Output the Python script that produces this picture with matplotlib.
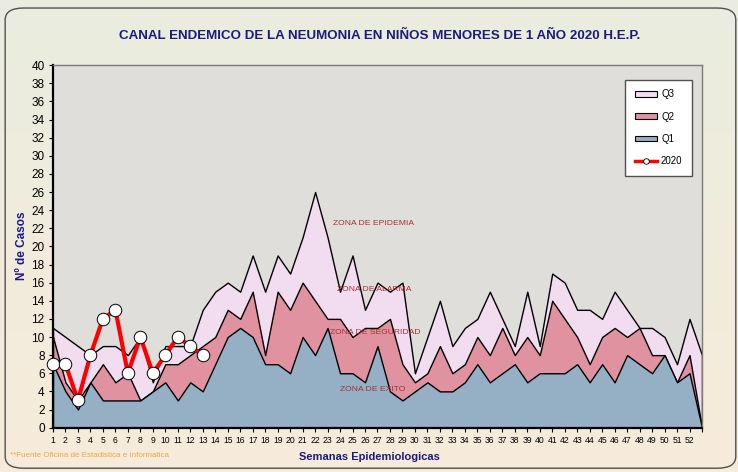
import numpy as np
import matplotlib.pyplot as plt
from matplotlib.patches import FancyBboxPatch, Patch
from matplotlib.lines import Line2D

# Weekly quartiles of historical cases (endemic channel) and 2020 cases
weeks = list(range(1, 54))
week_labels = [str(w) for w in range(1, 53)] + [""]

q1 = [7, 4, 2, 5, 3, 3, 3, 3, 4, 5, 3, 5, 4, 7, 10, 11, 10, 7, 7, 6,
      10, 8, 11, 6, 6, 5, 9, 4, 3, 4, 5, 4, 4, 5, 7, 5, 6, 7, 5, 6,
      6, 6, 7, 5, 7, 5, 8, 7, 6, 8, 5, 6, 0]
q2 = [10, 5, 3, 5, 7, 5, 6, 3, 4, 7, 7, 8, 9, 10, 13, 12, 15, 8, 15, 13,
      16, 14, 12, 12, 10, 11, 11, 12, 7, 5, 6, 9, 6, 7, 10, 8, 11, 8, 10, 8,
      14, 12, 10, 7, 10, 11, 10, 11, 8, 8, 5, 8, 0]
q3 = [11, 10, 9, 8, 9, 9, 8, 10, 5, 9, 9, 9, 13, 15, 16, 15, 19, 15, 19, 17,
      21, 26, 21, 15, 19, 13, 16, 15, 16, 6, 10, 14, 9, 11, 12, 15, 12, 9, 15, 9,
      17, 16, 13, 13, 12, 15, 13, 11, 11, 10, 7, 12, 8]

weeks_2020 = list(range(1, 14))
cases_2020 = [7, 7, 3, 8, 12, 13, 6, 10, 6, 8, 10, 9, 8]

zones = ["ZONA DE EPIDEMIA", "ZONA DE ALARMA", "ZONA DE SEGURIDAD", "ZONA DE EXITO"]

C_Q3 = "#f1ddef"
C_Q2 = "#e192a1"
C_Q1 = "#95afc5"
NAVY = "#1a1a80"
ZONE_RED = "#a5302f"

plt.rcParams["font.family"] = ["Liberation Sans", "DejaVu Sans"]


def main():
    fig = plt.figure(figsize=(7.38, 4.72), dpi=100)

    # gradient background (greenish top -> beige bottom)
    bg = fig.add_axes([0, 0, 1, 1], zorder=-10)
    top = np.array([0.914, 0.929, 0.875])
    bot = np.array([0.969, 0.922, 0.859])
    t = np.linspace(0, 1, 256)[:, None]
    grad = top + (bot - top) * t
    bg.imshow(grad[:, None, :].repeat(2, axis=1), aspect="auto",
              extent=[0, 1, 0, 1], origin="upper")
    bg.set_xlim(0, 1)
    bg.set_ylim(0, 1)
    bg.axis("off")
    border = FancyBboxPatch((0.007, 0.008), 0.99, 0.975,
                            boxstyle="round,pad=0,rounding_size=0.025",
                            transform=fig.transFigure, fill=False,
                            edgecolor="#505050", linewidth=1.0)
    bg.add_patch(border)

    ax = fig.add_axes([0.0718, 0.094, 0.8794, 0.768])
    ax.set_facecolor("#e0dedb")

    ax.fill_between(weeks, 0, q3, facecolor=C_Q3, edgecolor="black", linewidth=1.0)
    ax.fill_between(weeks, 0, q2, facecolor=C_Q2, edgecolor="black", linewidth=1.0)
    ax.fill_between(weeks, 0, q1, facecolor=C_Q1, edgecolor="black", linewidth=1.0)

    ax.plot(weeks_2020, cases_2020, color="#ff0000", linewidth=3, marker="o",
            markersize=9, markerfacecolor="white", markeredgecolor="black",
            markeredgewidth=0.7, clip_on=False, zorder=5)

    # zone labels
    zone_pos = [(26.7, 22.5), (26.7, 15.2), (26.8, 10.45), (26.6, 4.2)]
    for txt, (x, y) in zip(zones, zone_pos):
        ax.text(x, y, txt, color=ZONE_RED, fontsize=6.1, ha="center", va="center")

    ax.set_xlim(1, 53)
    ax.set_ylim(0, 40)
    ax.set_yticks(range(0, 41, 2))
    ax.set_xticks(weeks)
    ax.set_xticklabels(week_labels, fontsize=6.2)
    ax.tick_params(axis="y", labelsize=8.5, length=3, width=0.8, pad=3)
    ax.tick_params(axis="x", length=3, width=0.8, pad=3)

    for side in ("left", "bottom"):
        ax.spines[side].set_linewidth(1.6)
        ax.spines[side].set_color("black")
    for side in ("top", "right"):
        ax.spines[side].set_linewidth(1.0)
        ax.spines[side].set_color("#7a7a7a")

    handles = [
        Patch(facecolor=C_Q3, edgecolor="black", linewidth=0.8, label="Q3"),
        Patch(facecolor=C_Q2, edgecolor="black", linewidth=0.8, label="Q2"),
        Patch(facecolor=C_Q1, edgecolor="black", linewidth=0.8, label="Q1"),
        Line2D([], [], color="#ff0000", linewidth=2.5, marker="o", markersize=4,
               markerfacecolor="white", markeredgecolor="black",
               markeredgewidth=0.6, label="2020"),
    ]
    leg = fig.legend(handles=handles, loc="upper right",
                     bbox_to_anchor=(0.938, 0.831), fontsize=7,
                     frameon=True, fancybox=False, edgecolor="#505050",
                     framealpha=1, labelspacing=1.25, borderpad=1.0,
                     handlelength=2.3, handleheight=0.5, handletextpad=0.4,
                     borderaxespad=0)
    leg.get_frame().set_linewidth(1.0)

    fig.text(0.515, 0.923,
             "CANAL ENDEMICO DE LA NEUMONIA EN NIÑOS MENORES DE 1 AÑO 2020 H.E.P.",
             ha="center", va="center", fontsize=9.6, fontweight="bold",
             color=NAVY)
    fig.text(0.03, 0.48, "Nº de Casos", rotation=90, ha="center", va="center",
             fontsize=8.5, fontweight="bold", color=NAVY)
    fig.text(0.501, 0.032, "Semanas Epidemiologicas", ha="center", va="center",
             fontsize=8, fontweight="bold", color=NAVY)
    fig.text(0.013, 0.035, "**Fuente Oficina de Estadistica e Informatica",
             ha="left", va="center", fontsize=5.8, color="#f2a33a")

    fig.savefig("out.png", dpi=100)


if __name__ == "__main__":
    main()
